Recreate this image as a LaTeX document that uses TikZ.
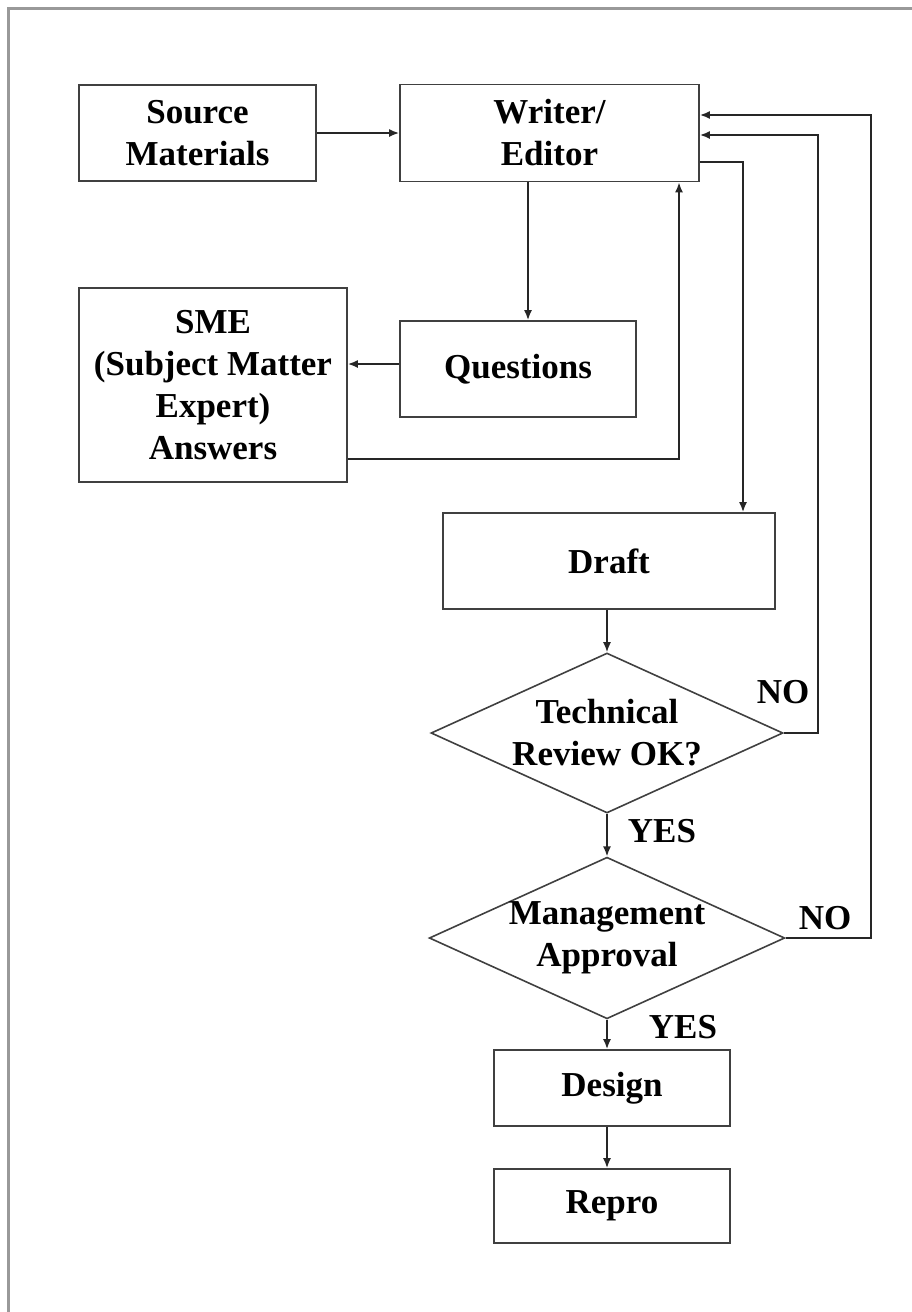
\documentclass[tikz,border=0pt]{standalone}
\usepackage{fontspec}
\setmainfont{Liberation Serif}
\usetikzlibrary{shapes.geometric,arrows.meta}
\begin{document}
\begin{tikzpicture}[x=1pt,y=-1pt,
  every node/.style={font=\bfseries\fontsize{35}{42}\selectfont, align=center},
  box/.style={draw=black!75, line width=1.8pt, rectangle, inner sep=0pt},
  dia/.style={draw=black!75, line width=1.6pt, diamond, inner sep=0pt, aspect=2.2},
  arr/.style={draw=black!85, line width=1.6pt, -{Latex[length=10pt,width=8pt]}},
  lbl/.style={inner sep=0pt}]
\useasboundingbox (0,0) rectangle (912,1312);
\draw[black!40, line width=3pt] (8,1312) -- (8,8) -- (912,8);

\node[box, minimum width=237pt, minimum height=96pt] (src) at (197.5,133) {Source\\Materials};
\node[box, minimum width=299pt, minimum height=97pt] (wr) at (549.5,133) {Writer/\\Editor};
\node[box, minimum width=236pt, minimum height=96pt] (q) at (518,369) {Questions};
\node[box, minimum width=268pt, minimum height=194pt] (sme) at (213,385) {SME\\(Subject Matter\\Expert)\\Answers};
\node[box, minimum width=332pt, minimum height=96pt] (draft) at (609,561) {Draft};
\node[dia, minimum width=352pt, minimum height=160pt] (tech) at (607,733) {Technical\\Review OK?};
\node[dia, minimum width=350pt, minimum height=161pt] (mgmt) at (607,938) {Management\\Approval};
\node[box, minimum width=236pt, minimum height=76pt] (design) at (612,1088) {Design};
\node[box, minimum width=236pt, minimum height=74pt] (repro) at (612,1206) {Repro};

\node[lbl] (no1) at (783,692) {NO};
\node[lbl] (yes1) at (662,831) {YES};
\node[lbl] (no2) at (825,918) {NO};
\node[lbl] (yes2) at (683,1027) {YES};

\coordinate (qx) at (528,0);
\coordinate (qy) at (0,364);
\coordinate (sx) at (679,0);
\coordinate (sy) at (0,459);
\coordinate (dx) at (743,0);
\coordinate (dy) at (0,162);
\coordinate (t1) at (818,733);
\coordinate (ty) at (0,135);
\coordinate (m1) at (871,938);
\coordinate (my) at (0,115);

\draw[arr] (src) -- (wr);
\draw[arr] (wr.south -| qx) -- (q.north -| qx);
\draw[arr] (q.west |- qy) -- (sme.east |- qy);
\draw[arr] (sme.east |- sy) -| (wr.south -| sx);
\draw[arr] (wr.east |- dy) -| (draft.north -| dx);
\draw[arr] (draft.south -| tech) -- (tech.north);
\draw[arr] (tech.south) -- (mgmt.north);
\draw[arr] (mgmt.south) -- (design.north -| mgmt);
\draw[arr] (design.south -| mgmt) -- (repro.north -| mgmt);
\draw[arr] (tech.east) -- (t1) |- (wr.east |- ty);
\draw[arr] (mgmt.east) -- (m1) |- (wr.east |- my);
\end{tikzpicture}
\end{document}
